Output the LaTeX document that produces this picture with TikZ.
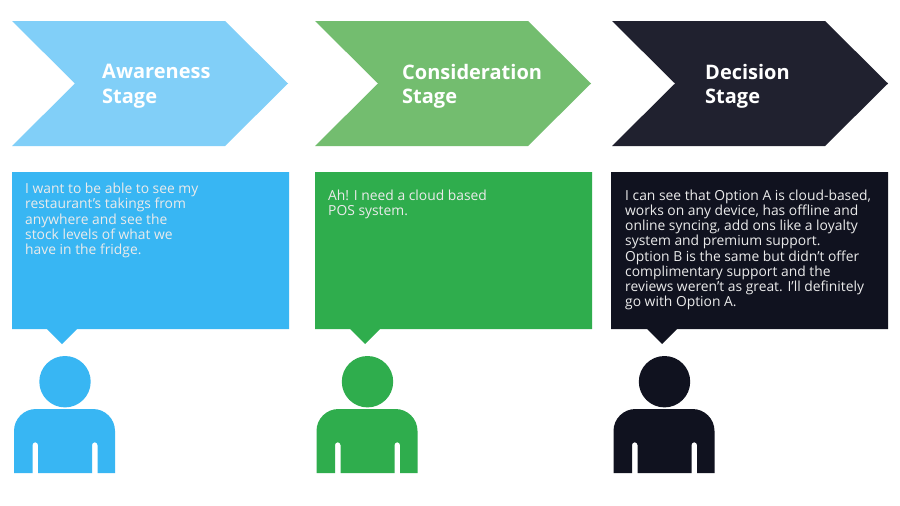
\documentclass[tikz,border=0pt]{standalone}
\usepackage{fontspec}
\setmainfont{Open Sans}
\definecolor{chevA}{HTML}{81CFF8}
\definecolor{boxA}{HTML}{38B6F3}
\definecolor{chevB}{HTML}{73BD6F}
\definecolor{boxB}{HTML}{2FAD4D}
\definecolor{chevC}{HTML}{20212F}
\definecolor{boxC}{HTML}{10121F}
\tikzset{
  stagetitle/.style={text=white,font=\fontsize{20}{24.6}\selectfont\bfseries,anchor=north west,inner sep=0pt,align=left},
  saytext/.style={text=white!92!black,font=\fontsize{13.85}{15.25}\selectfont,anchor=north west,inner sep=0pt,align=left},
}
\newcommand{\chevshape}[2]{% x offset, colour
  \fill[#2] (#1,21) -- (#1+213,21) -- (#1+276,83.5) -- (#1+213,146) -- (#1,146) -- (#1+63,83.5) -- cycle;}
\newcommand{\bubble}[3]{% box x, pointer x, colour
  \fill[#3] (#1,172) -- (#1+277,172) -- (#1+277,329) -- (#2+15,329) -- (#2,344) -- (#2-15,329) -- (#1,329) -- cycle;}
\newcommand{\person}[2]{% x of centre, colour
  \fill[#2] (#1,381.7) circle[radius=25.7];
  \fill[#2] (#1-51,473) -- (#1-51,431) arc[start angle=180,end angle=270,radius=22] -- (#1+28,409) arc[start angle=270,end angle=360,radius=22] -- (#1+50,473) -- (#1+32.5,473) -- (#1+32.5,445) arc[start angle=0,end angle=-180,radius=2.75] -- (#1+27,473) -- (#1-27,473) -- (#1-27,445) arc[start angle=0,end angle=-180,radius=2.75] -- (#1-32.5,473) -- cycle;}
\begin{document}
\begin{tikzpicture}[x=1pt,y=-1pt]
\useasboundingbox (0,0) rectangle (900,506);
\fill[white] (0,0) rectangle (900,506);
\chevshape{12}{chevA}
\chevshape{315}{chevB}
\chevshape{612}{chevC}
\node[stagetitle] (tA) at (102,64) {Awareness\\Stage};
\node[stagetitle] (tB) at (402,64) {Consideration\\Stage};
\node[stagetitle] (tC) at (705,64) {Decision\\Stage};
\bubble{12}{62}{boxA}
\bubble{315}{365}{boxB}
\fill[boxC] (611,172) -- (888,172) -- (888,329) -- (677,329) -- (662,344) -- (647,329) -- (611,329) -- cycle;
\node[saytext] (sA) at (25,183) {I want to be able to see my\\restaurant’s takings from\\anywhere and see the\\stock levels of what we\\have in the fridge.};
\node[saytext] (sB) at (328,189.5) {Ah! I need a cloud based\\POS system.};
\node[saytext] (sC) at (625,189.5) {I can see that Option A is cloud-based,\\works on any device, has offline and\\online syncing, add ons like a loyalty\\system and premium support.\\Option B is the same but didn’t offer\\complimentary support and the\\reviews weren’t as great. I’ll definitely\\go with Option A.};
\person{65}{boxA}
\person{367.5}{boxB}
\person{664.5}{boxC}
\end{tikzpicture}
\end{document}
